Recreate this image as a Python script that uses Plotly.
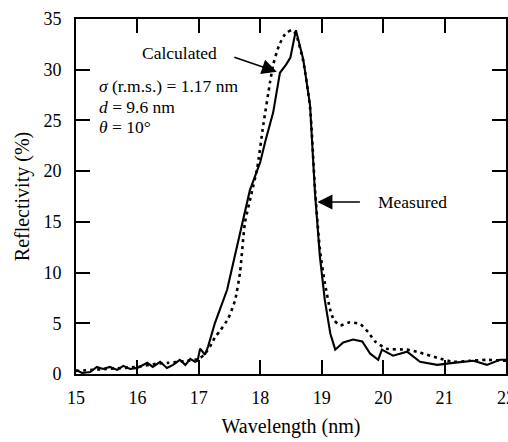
import plotly.graph_objects as go

# Measured reflectivity (solid)
meas_x = [15.0, 15.1, 15.23, 15.34, 15.44, 15.55, 15.67, 15.77, 15.88, 16.0, 16.16, 16.25,
          16.37, 16.48, 16.58, 16.69, 16.78, 16.86, 16.94, 16.98, 17.02, 17.1, 17.15, 17.26,
          17.46, 17.64, 17.83, 18.0, 18.08, 18.21, 18.32, 18.42, 18.49, 18.58, 18.70, 18.81,
          18.89, 18.97, 19.05, 19.14, 19.22, 19.35, 19.51, 19.66, 19.79, 19.92, 19.98, 20.16,
          20.39, 20.6, 20.88, 21.14, 21.47, 21.69, 21.9, 22.0]
meas_y = [0.4, 0.1, 0.2, 0.7, 0.5, 0.7, 0.4, 0.8, 0.5, 0.6, 1.1, 0.7,
          1.2, 0.6, 0.9, 1.4, 0.9, 1.5, 1.2, 1.3, 2.5, 1.9, 2.7, 5.0,
          8.3, 13.2, 18.1, 20.9, 22.9, 25.8, 29.7, 30.5, 31.2, 33.9, 31.0, 26.5,
          17.9, 11.6, 7.3, 4.0, 2.4, 3.1, 3.4, 3.2, 2.0, 1.4, 2.4, 1.8,
          2.2, 1.2, 0.9, 1.1, 1.3, 0.9, 1.4, 1.4]

# Calculated reflectivity (dotted)
calc_x = [15.0, 15.5, 16.0, 16.3, 16.5, 16.8, 17.0, 17.1, 17.21, 17.26, 17.35, 17.48,
          17.59, 17.67, 17.75, 17.85, 17.95, 18.05, 18.16, 18.21, 18.3, 18.38, 18.44,
          18.52, 18.58, 18.70, 18.81, 18.89, 18.97, 19.05, 19.14, 19.2, 19.3, 19.46,
          19.63, 19.76, 19.87, 20.06, 20.39, 20.6, 20.88, 21.14, 21.4, 21.69, 22.0]
calc_y = [0.3, 0.5, 0.7, 1.0, 1.1, 1.3, 1.5, 2.0, 3.0, 3.6, 4.3, 5.5,
          7.3, 10.0, 14.9, 17.6, 20.3, 24.6, 28.8, 30.5, 32.3, 33.3, 33.7,
          33.9, 33.5, 30.8, 26.3, 18.3, 12.3, 9.0, 6.3, 5.3, 4.8, 5.1,
          4.9, 4.1, 3.2, 2.5, 2.4, 2.1, 1.6, 1.2, 1.3, 1.4, 1.3]

x_ticks = [15, 16, 17, 18, 19, 20, 21, 22]
y_ticks = [0, 5, 10, 15, 20, 25, 30, 35]

FONT = "Liberation Serif"

fig = go.Figure()
fig.add_trace(go.Scatter(x=calc_x, y=calc_y, mode="lines",
                         line=dict(color="black", width=2.6, dash="3px,4px", shape="spline", smoothing=0.6),
                         showlegend=False))
fig.add_trace(go.Scatter(x=meas_x, y=meas_y, mode="lines",
                         line=dict(color="black", width=2.1),
                         showlegend=False))

axis_common = dict(showline=True, linecolor="black", linewidth=2, mirror="ticks",
                   ticks="inside", ticklen=14, tickwidth=1.6, tickcolor="black",
                   showgrid=False, zeroline=False, automargin=False,
                   tickfont=dict(family=FONT, size=18, color="black"))

fig.update_xaxes(range=[15, 22], tickvals=x_ticks, ticktext=[str(v) for v in x_ticks],
                 title=dict(text="Wavelength (nm)", font=dict(family=FONT, size=20, color="black"),
                            standoff=12),
                 ticklabelstandoff=6, ticklabeloverflow="allow", **axis_common)
fig.update_yaxes(range=[0, 35], tickvals=y_ticks, ticktext=[str(v) for v in y_ticks],
                 title=dict(text="Reflectivity (%)", font=dict(family=FONT, size=20, color="black"),
                            standoff=8),
                 ticklabelstandoff=9, **axis_common)

ann_font = dict(family=FONT, size=17.5, color="black")
annotations = [
    dict(x=18.27, y=29.8, xref="x", yref="y", text="", showarrow=True,
         ax=-44, ay=-15, arrowhead=2, arrowsize=2, arrowwidth=1.5, arrowcolor="black"),
    dict(x=16.69, y=31.66, xref="x", yref="y", text="Calculated", showarrow=False, font=ann_font),
    dict(x=18.93, y=16.96, xref="x", yref="y", text="", showarrow=True,
         ax=44, ay=0, arrowhead=2, arrowsize=2, arrowwidth=1.5, arrowcolor="black"),
    dict(x=20.47, y=16.96, xref="x", yref="y", text="Measured", showarrow=False, font=ann_font),
    dict(x=15.34, y=28.4, xref="x", yref="y", text="<i>σ</i> (r.m.s.) = 1.17 nm",
         showarrow=False, xanchor="left", font=ann_font),
    dict(x=15.34, y=26.3, xref="x", yref="y", text="<i>d</i> = 9.6 nm",
         showarrow=False, xanchor="left", font=ann_font),
    dict(x=15.34, y=24.4, xref="x", yref="y", text="<i>θ</i> = 10°",
         showarrow=False, xanchor="left", font=ann_font),
]

fig.update_layout(width=508, height=442, margin=dict(l=76, r=2, t=19, b=68, autoexpand=False),
                  paper_bgcolor="white", plot_bgcolor="white",
                  annotations=annotations, font=dict(family=FONT, color="black"))

fig.write_html("out.html")
